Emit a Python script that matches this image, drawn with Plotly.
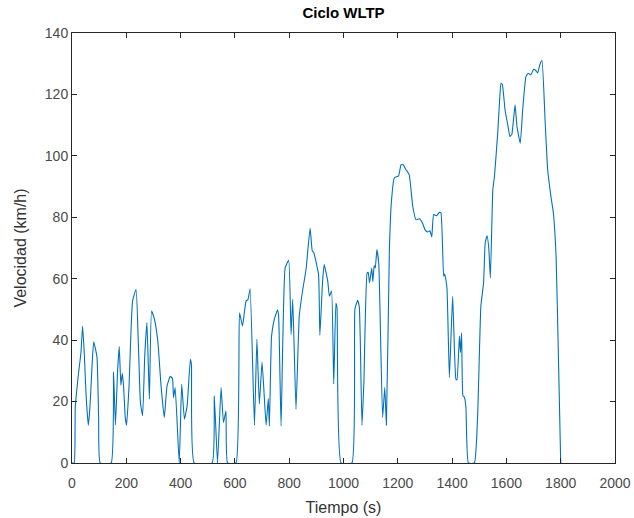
import plotly.graph_objects as go

time_s = [0, 8, 12, 23, 33, 39, 45, 52, 60, 66, 74, 80, 92, 98, 104, 144, 153, 160, 168, 174, 180, 185, 190, 196, 201,
          210, 223, 236, 244, 252, 260, 268, 276, 285, 293, 303, 316, 328, 340, 350, 362, 370, 374, 380,
          395, 404, 414, 424, 436, 440, 450, 516, 524, 536, 549, 558, 567, 573, 604,
          617, 628, 641, 648, 656, 672, 681, 690, 700, 708, 715, 723, 727, 735, 745, 757,
          761, 770, 785, 798, 807, 813, 825, 837, 850, 862, 877, 885, 890, 908, 913, 923,
          929, 942, 948, 956, 964, 972, 976, 991, 1031, 1042, 1052, 1058, 1062, 1068, 1075,
          1087, 1091, 1096, 1104, 1108, 1113, 1117, 1123, 1130, 1144, 1152, 1158, 1169,
          1177, 1187, 1203, 1212, 1220, 1230, 1242, 1255, 1267, 1280, 1292, 1300, 1310,
          1318, 1325, 1332, 1343, 1353, 1359, 1369, 1373, 1381, 1390, 1402, 1414, 1418,
          1427, 1431, 1435, 1440, 1445, 1451, 1460, 1482, 1494, 1506, 1516, 1522, 1529,
          1535, 1541, 1550, 1556, 1568, 1575, 1580, 1585, 1595, 1605, 1613, 1620, 1632, 1639,
          1651, 1660, 1672, 1681, 1690, 1700, 1708, 1715, 1724, 1731, 1743, 1752, 1764,
          1773, 1783, 1791, 1800]
speed_kmh = [0, 0, 18, 28.4, 36, 44.6, 36, 21.9, 12.3, 18, 32, 39.5, 34.4, 15, 0, 0, 29.7, 12.4, 30, 37.9, 25.3, 29.2, 25, 15, 12.3,
             25, 52.7, 56.5, 40, 19.7, 15.4, 35, 45.7, 20.8, 49.5, 47, 39.7, 25.1, 14.8, 25.1, 28.2, 27.5, 21.3, 24.6,
             0, 25.7, 14.3, 18.6, 33.8, 32, 0, 0, 21.9, 0, 24.6, 13.2, 17, 0, 0,
             48.9, 44.6, 52.7, 53.2, 56.7, 12.3, 40.3, 19.2, 32.9, 21.9, 12.3, 21, 12, 41.3, 46.8, 49.8,
             48, 12.1, 63.5, 66, 41.9, 53.3, 17.5, 47.8, 56.5, 63, 76.5, 69, 68.6, 61.4, 41.6, 59.2,
             64.6, 59.2, 54.3, 56, 25.7, 52, 50.6, 0, 0, 50, 53, 51, 39.2, 12.3, 26,
             61.9, 62, 58.7, 63.5, 59, 64.3, 63.5, 69.5, 64.6, 14.8, 24.6, 12.3, 69.5,
             85.7, 92.8, 93.5, 97.1, 97.1, 95.5, 93.9, 83.6, 79.2, 79.5, 77.9, 76, 75.2,
             75.6, 73.6, 80.9, 80.5, 81.6, 81.4, 60.8, 61.5, 57, 27.8, 54.3, 27.3, 27.1,
             41.3, 36, 42.4, 21.9, 21.5, 18.1, 0, 0, 15.4, 51.1, 58.7, 71.7, 74,
             70, 60.3, 89, 93.3, 107.4, 118, 123.6, 123.2, 115, 110.1, 106.3, 107, 116.6, 109.5,
             104.1, 115, 125.8, 126.9, 126.3, 128.2, 127.8, 127, 129.9, 131, 110.6, 95.5, 86.8,
             81.4, 67.3, 37, 0]

x_ticks = [0, 200, 400, 600, 800, 1000, 1200, 1400, 1600, 1800, 2000]
y_ticks = [0, 20, 40, 60, 80, 100, 120, 140]

FONT = "Liberation Sans, Arial"

fig = go.Figure()
fig.add_trace(go.Scatter(x=time_s, y=speed_kmh, mode="lines",
                         line=dict(color="#0072BD", width=1.1, shape="spline", smoothing=0.4),
                         showlegend=False))

axis_common = dict(showline=True, linecolor="#262626", linewidth=1, mirror="ticks",
                   ticks="inside", ticklen=5, tickcolor="#262626", showgrid=False,
                   zeroline=False, automargin=False,
                   tickfont=dict(family=FONT, size=14, color="#4a4a4a"))

fig.update_layout(
    width=634, height=518,
    paper_bgcolor="white", plot_bgcolor="white",
    margin=dict(l=72, r=19, t=33, b=55, autoexpand=False),
    title=dict(text="<b>Ciclo WLTP</b>", x=0.5, xanchor="center", y=0.985, yanchor="top",
               xref="paper",
               font=dict(family=FONT, size=15, color="#000000")),
    xaxis=dict(range=[0, 2000], tickvals=x_ticks, ticklabelstandoff=7,
               title=dict(text="Tiempo (s)", font=dict(family=FONT, size=16, color="#333333"), standoff=12),
               **axis_common),
    yaxis=dict(range=[0, 140], tickvals=y_ticks,
               title=dict(text="Velocidad (km/h)", font=dict(family=FONT, size=16, color="#333333"), standoff=14),
               **axis_common),
)

fig.write_html("out.html", config={"displayModeBar": False},
               post_script="document.body.style.margin='0';")
